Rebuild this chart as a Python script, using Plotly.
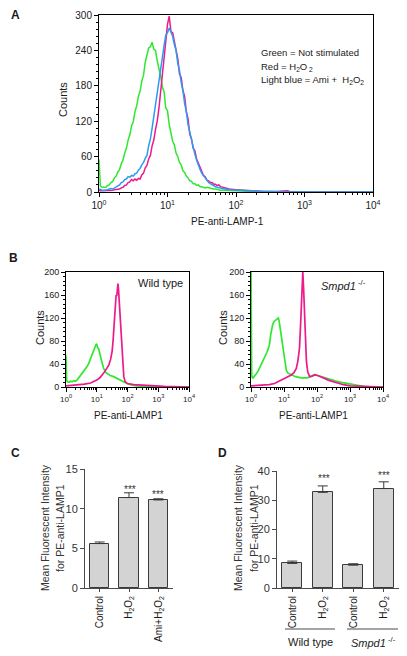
import plotly.graph_objects as go

# page body has an 8px margin, so the figure is drawn 8px in; size it to the visible area
OFF = 8
W, H = 407 - OFF, 656 - OFF

# ---------------- data ----------------
# Panel A: histograms on a shared grid of log10 fluorescence bins
A_bins = [0.00, 0.02, 0.05, 0.075,
          0.100, 0.125, 0.150, 0.175, 0.200, 0.225, 0.250, 0.275, 0.300, 0.325, 0.350, 0.375, 0.400, 0.425, 0.450, 0.475,
          0.500, 0.525, 0.550, 0.575, 0.600, 0.625, 0.650, 0.675, 0.700, 0.725, 0.750, 0.775, 0.800, 0.825, 0.850, 0.875,
          0.900, 0.925, 0.950, 0.975, 1.000, 1.025, 1.050, 1.075, 1.100, 1.125, 1.150, 1.175, 1.200, 1.225, 1.250, 1.275,
          1.300, 1.325, 1.350, 1.375, 1.400, 1.425, 1.450, 1.475, 1.500, 1.525, 1.550, 1.575, 1.600, 1.625, 1.650, 1.675,
          1.700, 1.725, 1.750, 1.775, 1.800,
          1.900, 2.000, 2.200, 2.400, 2.600, 2.750, 2.800, 4.000]
A_green = [55, 10, 8, 8,
           8, 11, 12, 16, 18, 24, 27, 34, 38, 48, 54, 66, 74, 88, 97, 112,
           119, 136, 146, 162, 171, 188, 198, 220, 230, 244, 246, 254, 242, 240, 222, 210,
           196, 178, 170, 142, 138, 114, 102, 86, 80, 66, 60, 50, 46, 36, 33, 27,
           24, 19, 18, 14, 14, 11, 12, 9, 9, 8, 7, 8, 7, 6, 6, 5,
           5, 4, 4, 3, 3,
           2, 2, 1, 1, 0, 0, 0, 0]
A_red = [3, 2, 2, 2,
         2, 3, 2, 3, 3, 4, 4, 5, 5, 7, 8, 11, 12, 16, 17, 21,
         19, 22, 20, 23, 22, 29, 32, 41, 45, 56, 62, 78, 88, 106, 120, 142,
         172, 196, 232, 258, 284, 298, 272, 270, 254, 236, 226, 200, 194, 172, 162, 136,
         124, 98, 90, 74, 70, 56, 48, 40, 35, 28, 26, 20, 19, 16, 16, 13,
         13, 11, 12, 9, 8,
         5, 4, 2, 1, 1, 2, 0, 0]
A_blue = [5, 4, 3, 3,
          3, 4, 5, 6, 5, 7, 8, 11, 12, 16, 17, 21, 22, 26, 25, 28,
          27, 31, 32, 37, 40, 46, 50, 57, 62, 78, 90, 108, 128, 150, 170, 190,
          210, 236, 248, 266, 270, 278, 270, 264, 250, 240, 218, 206, 186, 172, 150, 136,
          114, 100, 86, 74, 64, 54, 45, 38, 32, 28, 23, 19, 16, 14, 12, 10,
          9, 8, 7, 7, 6,
          4, 3, 2, 1, 0, 0, 0, 0]

# Panel B left (wild type)
BL_green_log = [0.00,0.02,0.05,0.10,0.15,0.20,0.25,0.30,0.36,0.42,0.47,0.52,0.57,0.63,0.69,0.74,0.79,0.84,0.88,0.93,
                0.97,1.00,1.03,1.06,1.10,1.14,1.17,1.22,1.28,1.35,1.44,1.55,1.65,1.71,1.80,1.87,1.98,2.10,2.30,2.60,3.00,4.00]
BL_green_cnt = [55,12,9,8,10,9,11,10,12,16,20,23,26,31,36,41,48,55,62,70,
                73,75,68,67,56,46,43,33,26,23,20,18,15,14,11,9,6,4,2,1,0,0]
BL_mag_log = [0.00,0.20,0.40,0.60,0.80,0.90,1.00,1.10,1.17,1.25,1.32,1.39,1.45,1.50,1.53,1.56,1.59,1.61,1.63,1.65,
              1.67,1.69,1.71,1.73,1.76,1.79,1.82,1.85,1.88,1.92,2.00,2.20,2.50,2.80,3.20,4.00]
BL_mag_cnt = [2,3,3,5,7,9,12,16,20,26,32,38,48,62,80,105,130,148,160,158,
              172,180,168,150,128,95,67,38,18,10,6,4,3,2,1,0]

# Panel B right (Smpd1-/-)
BR_green_log = [0.00,0.02,0.05,0.10,0.15,0.20,0.25,0.30,0.35,0.41,0.48,0.53,0.56,0.60,0.63,0.66,0.70,0.74,0.78,0.83,
                0.86,0.89,0.93,0.96,1.00,1.04,1.07,1.12,1.22,1.35,1.52,1.70,1.85,1.93,2.02,2.13,2.30,2.44,2.60,2.74,
                2.90,3.15,3.40,3.70,4.00]
BR_green_cnt = [210,20,15,18,22,26,32,38,44,50,60,68,74,92,105,109,114,116,118,120,
                112,100,82,68,50,36,29,24,21,18,16,16,19,22,20,18,15,12,10,8,
                6,3,1,0,0]
BR_mag_log = [0.00,0.20,0.40,0.55,0.71,0.81,0.91,1.05,1.15,1.22,1.30,1.37,1.42,1.47,1.50,1.52,1.545,1.57,1.595,1.62,
              1.65,1.68,1.72,1.78,1.85,1.93,2.02,2.13,2.23,2.34,2.50,2.64,2.80,3.00,3.30,4.00]
BR_mag_cnt = [2,3,3,4,6,9,12,16,19,21,25,32,45,68,105,144,180,200,170,126,
              80,44,26,18,19,21,20,18,15,12,9,6,4,2,1,0]

# Panel C bars
C_labels = ["Control", "H<sub>2</sub>O<sub>2</sub>", "Ami+H<sub>2</sub>O<sub>2</sub>"]
C_values = [5.6, 11.4, 11.1]
C_errors = [0.2, 0.6, 0.15]

# Panel D bars
D_labels = ["Control", "H<sub>2</sub>O<sub>2</sub>", "Control", "H<sub>2</sub>O<sub>2</sub>"]
D_values = [8.4, 32.7, 7.8, 34.0]
D_errors = [0.8, 2.2, 0.5, 2.3]

decade_vals = [1, 10, 100, 1000, 10000]
decade_text = ["10<sup>0</sup>", "10<sup>1</sup>", "10<sup>2</sup>", "10<sup>3</sup>", "10<sup>4</sup>"]
minor_vals = [m * d for d in [1, 10, 100, 1000] for m in range(2, 10)]

GREEN = "#2fe82f"
MAG = "#ec1a8c"
BLUE = "#2b9cf2"
FONT = "Liberation Sans, Arial, sans-serif"
TXT = "#1a1a1a"
GRAYAX = "#4a4a4a"


def X(p):
    return (p - OFF) / W


def Y(p):
    return 1 - (p - OFF) / H


fig = go.Figure()


def curve(logs, cnts, color, xa, ya, width):
    fig.add_trace(go.Scatter(x=[10 ** v for v in logs], y=cnts, mode="lines",
                             line=dict(color=color, width=width),
                             xaxis=xa, yaxis=ya, showlegend=False, hoverinfo="skip"))


curve(A_bins, A_green, GREEN, "x", "y", 1.5)
curve(A_bins, A_red, MAG, "x", "y", 1.5)
curve(A_bins, A_blue, BLUE, "x", "y", 1.5)
curve(BL_green_log, BL_green_cnt, GREEN, "x2", "y2", 1.7)
curve(BL_mag_log, BL_mag_cnt, MAG, "x2", "y2", 1.7)
curve(BR_green_log, BR_green_cnt, GREEN, "x3", "y3", 1.7)
curve(BR_mag_log, BR_mag_cnt, MAG, "x3", "y3", 1.7)

bar_marker = dict(color="#d3d3d3", line=dict(color="#3a3a3a", width=1))
fig.add_trace(go.Bar(x=list(range(len(C_values))), y=C_values, width=0.65, marker=bar_marker,
                     error_y=dict(type="data", symmetric=False, array=C_errors,
                                  arrayminus=[0] * len(C_errors), color="#3a3a3a", thickness=1, width=5),
                     xaxis="x4", yaxis="y4", showlegend=False, hoverinfo="skip"))
fig.add_trace(go.Bar(x=list(range(len(D_values))), y=D_values, width=0.66, marker=bar_marker,
                     error_y=dict(type="data", symmetric=False, array=D_errors,
                                  arrayminus=[0] * len(D_errors), color="#3a3a3a", thickness=1, width=5),
                     xaxis="x5", yaxis="y5", showlegend=False, hoverinfo="skip"))

base = dict(showline=True, linecolor="black", linewidth=1, ticks="outside", tickcolor="black",
            showgrid=False, zeroline=False, automargin=False,
            tickfont=dict(family=FONT, size=10, color=TXT))


def logx(domain, anchor, size):
    d = dict(base)
    d.update(domain=domain, anchor=anchor, type="log", range=[0, 4], tickvals=decade_vals,
             ticktext=decade_text, ticklen=4, mirror=True,
             tickfont=dict(family=FONT, size=size, color=TXT),
             minor=dict(tickvals=minor_vals, ticks="outside", ticklen=2, tickcolor="black"))
    return d


def county(domain, anchor, rng, dt, mdt, size):
    d = dict(base)
    d.update(domain=domain, anchor=anchor, range=rng, dtick=dt, ticklen=4, mirror=True,
             tickfont=dict(family=FONT, size=size, color=TXT),
             minor=dict(dtick=mdt, ticks="outside", ticklen=2, tickcolor="black"))
    return d


def barx(domain, anchor, n, labels):
    d = dict(base)
    d.update(domain=domain, anchor=anchor, range=[-0.5, n - 0.5], tickvals=list(range(n)),
             ticktext=labels, tickangle=-90, ticklen=3, linecolor=GRAYAX, tickcolor=GRAYAX,
             tickfont=dict(family=FONT, size=10, color=TXT))
    return d


def bary(domain, anchor, rng, dt):
    d = dict(base)
    d.update(domain=domain, anchor=anchor, range=rng, dtick=dt, ticklen=4,
             linecolor=GRAYAX, tickcolor=GRAYAX,
             tickfont=dict(family=FONT, size=11, color="#333333"))
    return d


fig.update_layout(
    width=W, height=H, margin=dict(l=0, r=0, t=0, b=0, pad=0, autoexpand=False), autosize=False,
    paper_bgcolor="white", plot_bgcolor="white", showlegend=False, bargap=0,
    xaxis=logx([X(99), X(373)], "y", 10),
    yaxis=county([Y(192), Y(15)], "x", [0, 300], 60, 12, 10),
    xaxis2=logx([X(66), X(189)], "y2", 8),
    yaxis2=county([Y(387), Y(272)], "x2", [0, 200], 40, 8, 9),
    xaxis3=logx([X(251), X(383)], "y3", 8),
    yaxis3=county([Y(387), Y(272)], "x3", [0, 200], 40, 8, 9),
    xaxis4=barx([X(85), X(173)], "y4", 3, C_labels),
    yaxis4=bary([Y(588), Y(469)], "x4", [0, 15], 5),
    xaxis5=barx([X(277), X(399)], "y5", 4, D_labels),
    yaxis5=bary([Y(588), Y(471)], "x5", [0, 40], 10),
)

ann = []


def txt(text, x, y, size, angle=0, bold=False, xanchor="center", color=TXT):
    ann.append(dict(text=("<b>%s</b>" % text) if bold else text, x=X(x), y=Y(y), xref="paper",
                    yref="paper", showarrow=False, textangle=angle, xanchor=xanchor, yanchor="middle",
                    font=dict(family=FONT, size=size, color=color)))


txt("A", 15, 15, 12, bold=True)
txt("B", 13, 258, 12, bold=True)
txt("C", 15, 453, 12, bold=True)
txt("D", 222, 453, 12, bold=True)

txt("Green = Not stimulated", 259, 53, 9.5, xanchor="left")
txt("Red = H<sub>2</sub>O<sub> 2</sub>", 259, 67, 9.5, xanchor="left")
txt("Light blue = Ami +  H<sub>2</sub>O<sub>2</sub>", 259, 80, 9.5, xanchor="left")
txt("Counts", 63, 100, 11, angle=-90)
txt("PE-anti-LAMP-1", 227, 221, 10)

txt("Wild type", 160, 283, 11)
txt("<i>Smpd1</i><sup> -/-</sup>", 343, 285, 11)
txt("Counts", 40, 328, 11, angle=-90)
txt("Counts", 223, 328, 11, angle=-90)
txt("PE-anti-LAMP1", 128, 415, 10)
txt("PE-anti-LAMP1", 313, 415, 10)

txt("Mean Fluorescent Intensity", 45, 528, 10.5, angle=-90, color="#333333")
txt("for PE-anti-LAMP1", 60, 528, 10.5, angle=-90, color="#333333")
txt("Mean Fluorescent Intensity", 238, 528, 10.5, angle=-90, color="#333333")
txt("for PE-anti-LAMP1", 254, 528, 10.5, angle=-90, color="#333333")

txt("***", 130, 489, 10, color="#333333")
txt("***", 158, 494, 10, color="#333333")
txt("***", 324, 478, 10, color="#333333")
txt("***", 384, 475, 10, color="#333333")

txt("Wild type", 310, 642, 11)
txt("<i>Smpd1</i><sup> -/-</sup>", 373, 642, 11)

fig.update_layout(annotations=ann)

fig.add_shape(type="line", xref="paper", yref="paper", x0=X(285), x1=X(335), y0=Y(629), y1=Y(629),
              line=dict(color=GRAYAX, width=1))
fig.add_shape(type="line", xref="paper", yref="paper", x0=X(347), x1=X(398), y0=Y(629), y1=Y(629),
              line=dict(color=GRAYAX, width=1))

fig.write_html("out.html")
